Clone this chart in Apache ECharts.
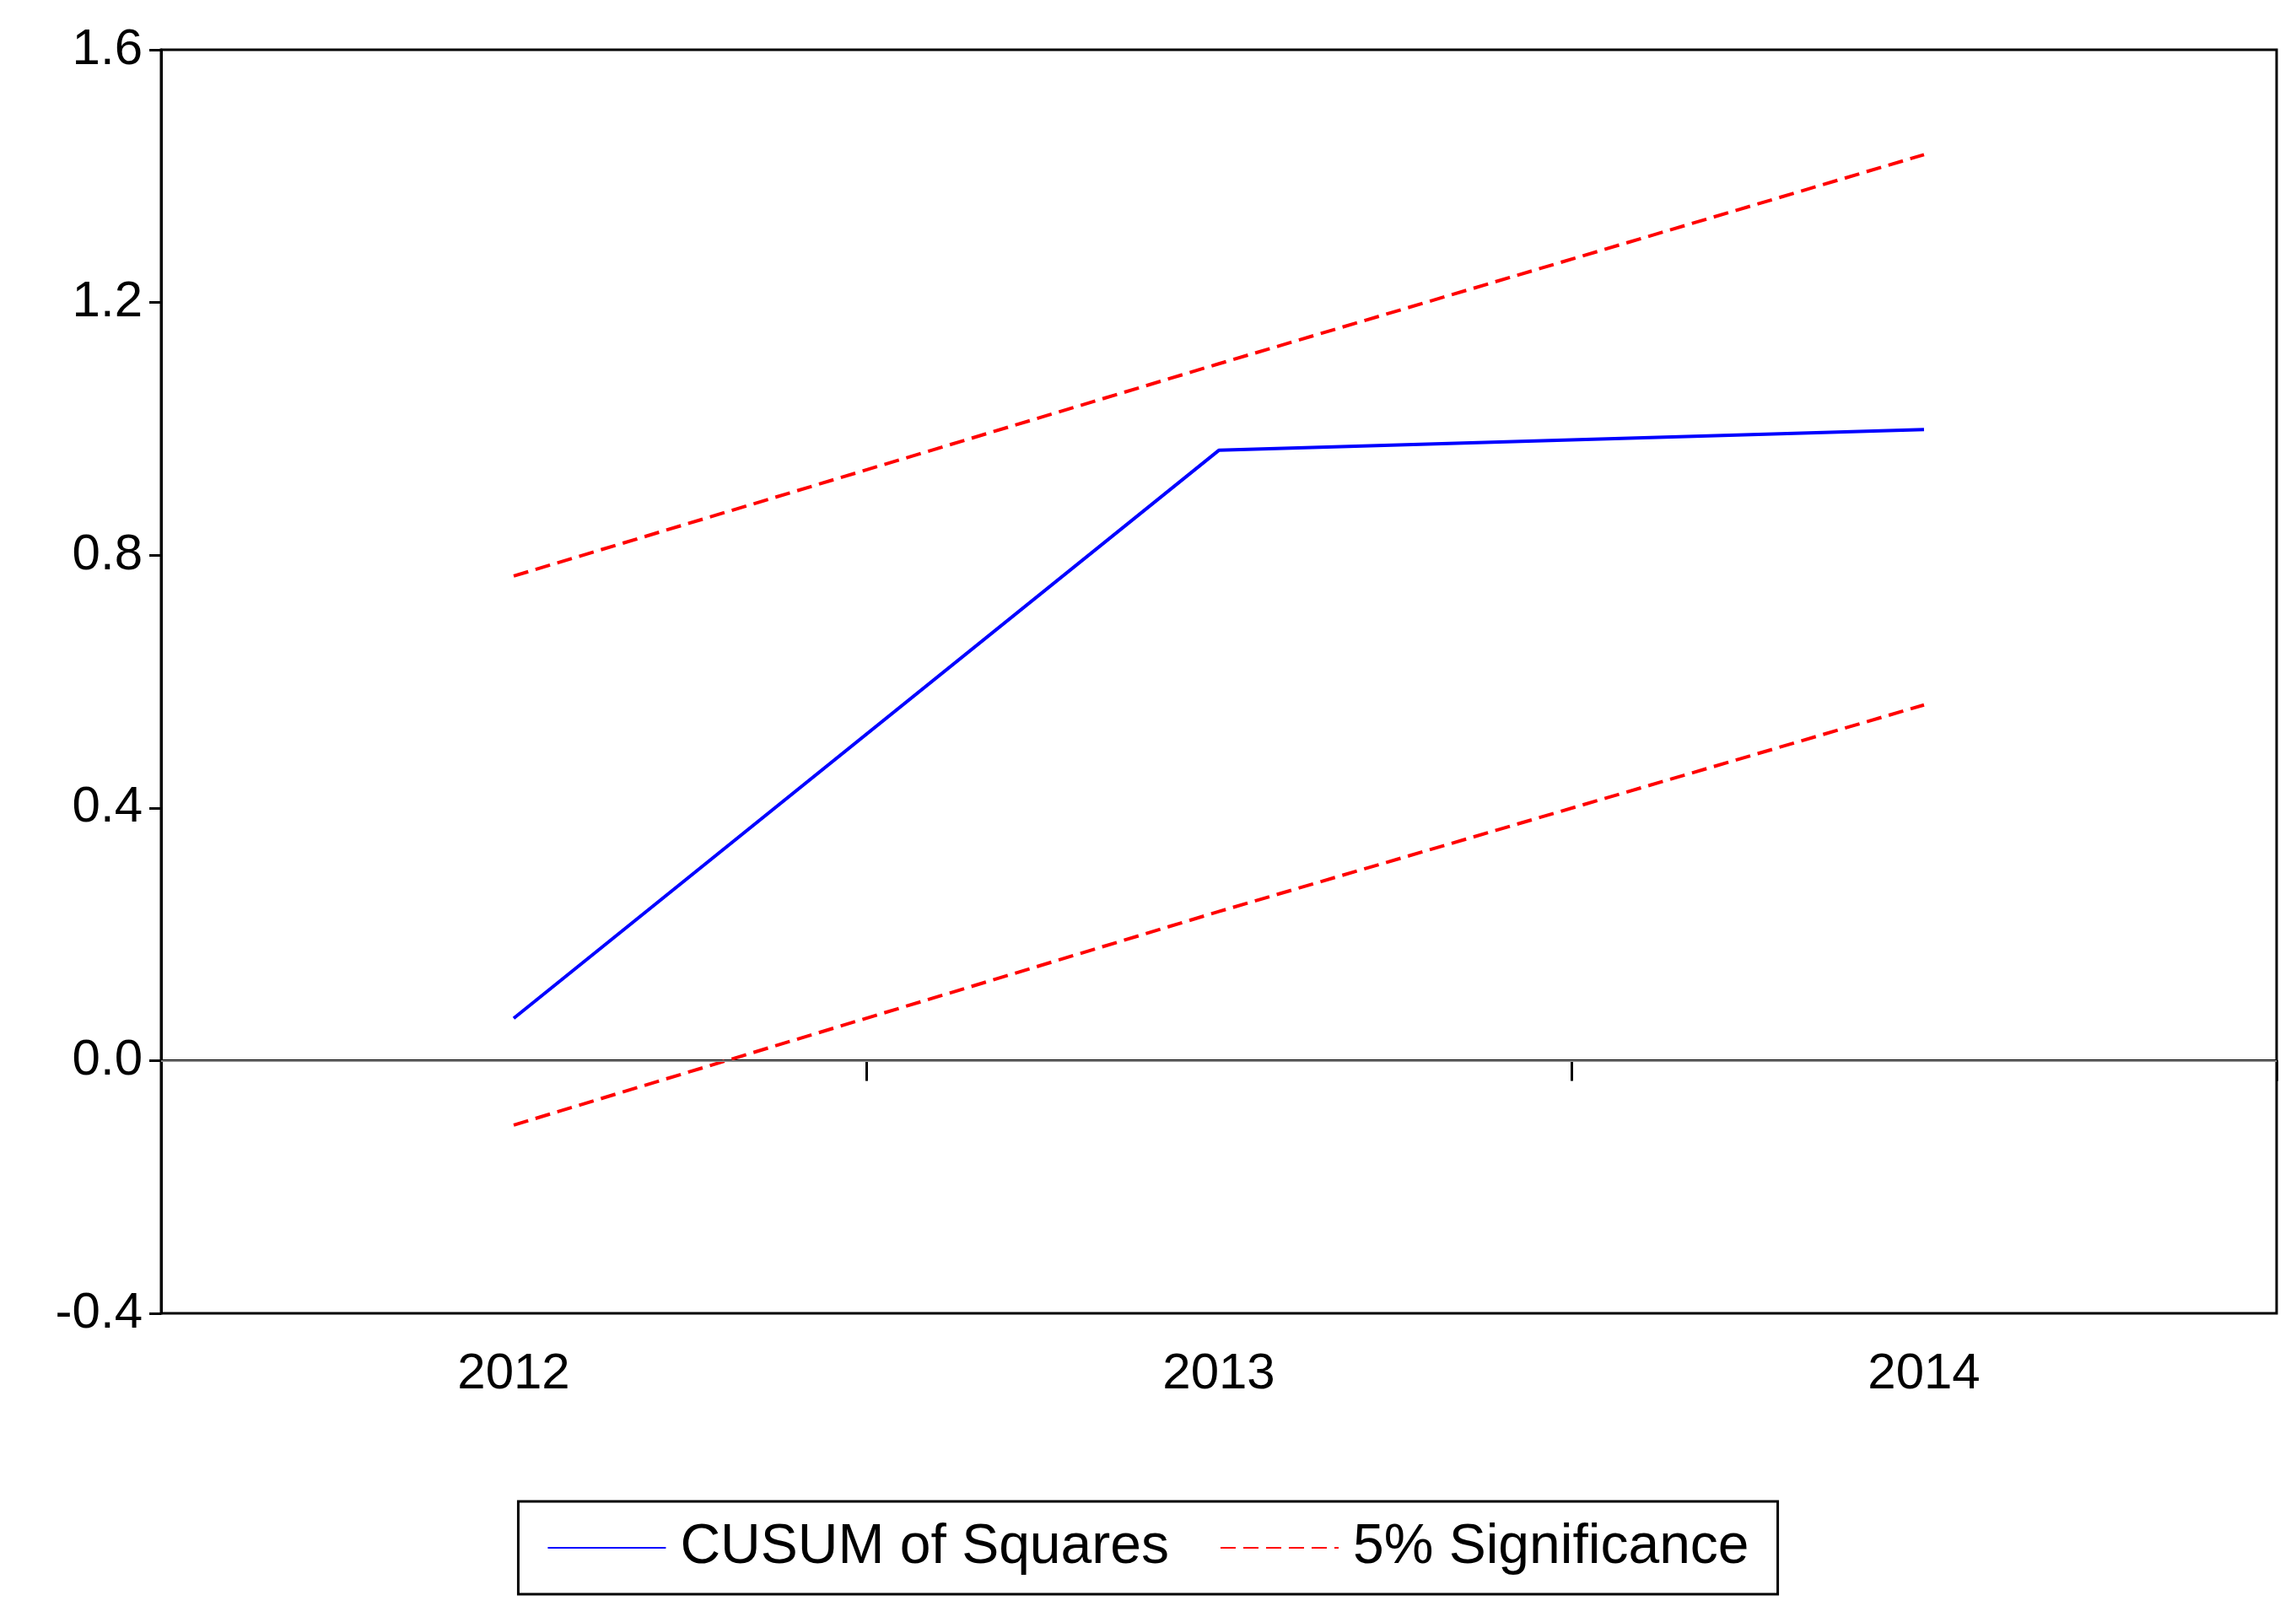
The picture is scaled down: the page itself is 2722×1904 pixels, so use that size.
<!DOCTYPE html>
<html>
<head>
<meta charset="utf-8">
<script src="https://cdn.jsdelivr.net/npm/echarts@6/dist/echarts.min.js"></script>
<style>html,body{margin:0;padding:0;background:#fff}#chart{width:2722px;height:1904px}</style>
</head>
<body>
<div id="chart"></div>
<script>
// values
var years = ['2012', '2013', '2014'];
var cusumSq = [0.067, 0.966, 0.999];
var upper = [0.767, 1.103, 1.434];
var lower = [-0.102, 0.236, 0.563];
var yTicks = [-0.4, 0.0, 0.4, 0.8, 1.2, 1.6];

var chart = echarts.init(document.getElementById('chart'));
var font = 'Liberation Sans, Arial, sans-serif';

var option = {
  animation: false,
  backgroundColor: '#fff',
  grid: {
    left: 191, right: 23, top: 59, bottom: 347,
    show: true, borderColor: '#000', borderWidth: 3
  },
  legend: {
    data: ['CUSUM of Squares', '5% Significance'],
    bottom: 14, left: 'center',
    padding: [22, 34, 22, 34],
    borderColor: '#000', borderWidth: 3,
    itemWidth: 140, itemHeight: 20, itemGap: 60,
    itemStyle: { opacity: 0 },
    textStyle: { fontFamily: font, fontSize: 66, color: '#000', padding: [0, 0, 0, 12] }
  },
  xAxis: {
    type: 'category',
    boundaryGap: true,
    data: years,
    axisLine: { show: true, lineStyle: { color: '#000', width: 3 } },
    axisTick: { show: true, interval: 0, length: 24, lineStyle: { color: '#000', width: 3 } },
    axisLabel: { fontFamily: font, fontSize: 60, color: '#000', margin: 42 }
  },
  yAxis: {
    type: 'value',
    min: yTicks[0], max: yTicks[yTicks.length - 1], interval: 0.4,
    axisLine: { show: true, lineStyle: { color: '#000', width: 3 } },
    axisTick: { show: true, length: 14, lineStyle: { color: '#000', width: 3 } },
    splitLine: { show: false },
    axisLabel: {
      fontFamily: font, fontSize: 60, color: '#000', margin: 22,
      padding: [0, 0, 16, 0],
      formatter: function (v) { return v.toFixed(1); }
    }
  },
  series: [{
    name: 'CUSUM of Squares',
    type: 'line',
    data: cusumSq,
    symbol: 'none',
    lineStyle: { color: '#0000ff', width: 4 },
    itemStyle: { color: '#0000ff' },
    markLine: {
      silent: true, symbol: 'none', label: { show: false },
      lineStyle: { color: '#888', width: 2, type: 'solid' },
      data: [{ yAxis: 0 }]
    }
  }, {
    name: '5% Significance',
    type: 'line',
    data: upper,
    symbol: 'none',
    lineStyle: { color: '#ff0000', width: 4, type: [18, 9] },
    itemStyle: { color: '#ff0000' }
  }, {
    name: '5% Significance',
    type: 'line',
    data: lower,
    symbol: 'none',
    lineStyle: { color: '#ff0000', width: 4, type: [18, 9] },
    itemStyle: { color: '#ff0000' }
  }]
};

chart.setOption(option);
</script>
</body>
</html>
